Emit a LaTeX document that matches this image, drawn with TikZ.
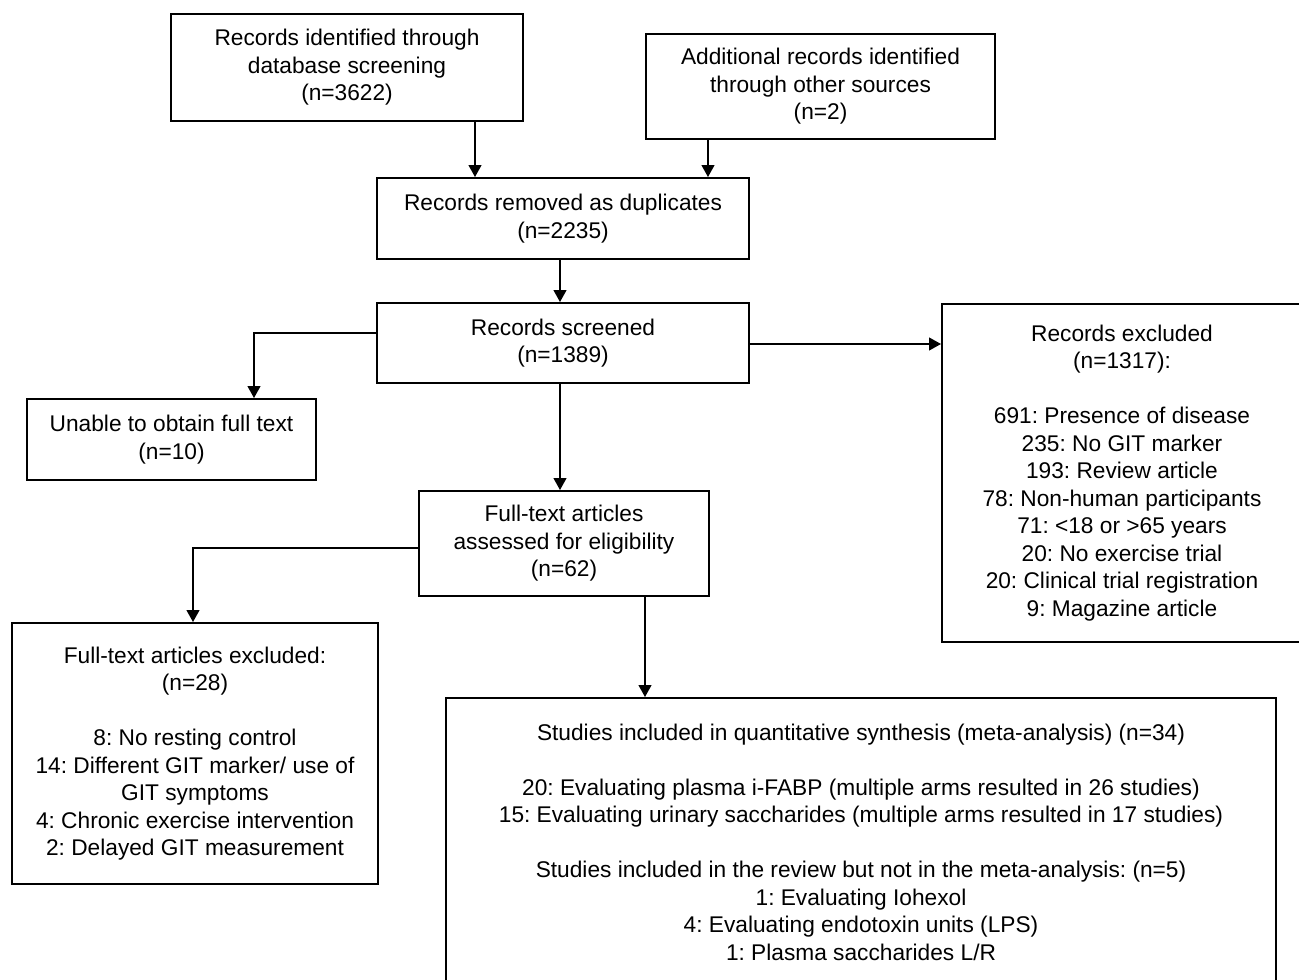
\documentclass[tikz,border=0pt]{standalone}
\usepackage{fontspec}
\setmainfont{Liberation Sans}
\usetikzlibrary{arrows.meta}
\begin{document}
\begin{tikzpicture}[x=1pt,y=-1pt,
  box/.style={draw=black,line width=2pt,rectangle,inner sep=0pt,anchor=north west,align=center,
    font={\fontsize{22.7}{27.5}\selectfont\frenchspacing},
    execute at begin node={\rule{0pt}{22pt}}},
  arr/.style={line width=1.2pt,-{Triangle[length=12pt,width=13pt]}},
  ln/.style={line width=1.2pt}]
\useasboundingbox[fill=white] (0,0) rectangle (1299,980);
\node[box,minimum width=352pt,minimum height=107pt] (A) at (170,13)
  {Records identified through\\database screening\\(n=3622)};
\node[box,minimum width=349pt,minimum height=105pt] (B) at (645,33)
  {Additional records identified\\through other sources\\(n=2)};
\node[box,minimum width=372pt,minimum height=81pt] (C) at (376,177)
  {Records removed as duplicates\\(n=2235)};
\node[box,minimum width=372pt,minimum height=80pt] (D) at (376,302)
  {Records screened\\(n=1389)};
\node[box,minimum width=289pt,minimum height=81pt] (E) at (26,398)
  {Unable to obtain full text\\(n=10)};
\node[box,minimum width=290pt,minimum height=105pt] (F) at (418,490)
  {Full-text articles\\assessed for eligibility\\(n=62)};
\node[box,minimum width=366pt,minimum height=261pt] (G) at (11,622)
  {Full-text articles excluded:\\(n=28)\\[27.5pt]8: No resting control\\14: Different GIT marker/ use of\\GIT symptoms\\4: Chronic exercise intervention\\2: Delayed GIT measurement};
\node[box,minimum width=360pt,minimum height=338pt] (H) at (941,303)
  {Records excluded\\(n=1317):\\[27.5pt]691: Presence of disease\\235: No GIT marker\\193: Review article\\78: Non-human participants\\71: <18 or >65 years\\20: No exercise trial\\20: Clinical trial registration\\9: Magazine article};
\node[box,minimum width=830pt,minimum height=288pt] (I) at (445,697)
  {Studies included in quantitative synthesis (meta-analysis) (n=34)\\[27.5pt]20: Evaluating plasma i-FABP (multiple arms resulted in 26 studies)\\15: Evaluating urinary saccharides (multiple arms resulted in 17 studies)\\[27.5pt]Studies included in the review but not in the meta-analysis: (n=5)\\1: Evaluating Iohexol\\4: Evaluating endotoxin units (LPS)\\1: Plasma saccharides L/R};
\draw[arr] (A.south -| 475,0) -- (C.north -| 475,0);
\draw[arr] (B.south -| 708,0) -- (C.north -| 708,0);
\draw[arr] (C.south -| 560,0) -- (D.north -| 560,0);
\draw[arr] (D.west |- 0,333) -| (E.north -| 254,0);
\draw[arr] (D.east |- 0,344) -- (H.west |- 0,344);
\draw[arr] (D.south -| 560,0) -- (F.north -| 560,0);
\draw[arr] (F.west |- 0,548) -| (G.north -| 193,0);
\draw[arr] (F.south -| 645,0) -- (I.north -| 645,0);
\end{tikzpicture}
\end{document}
